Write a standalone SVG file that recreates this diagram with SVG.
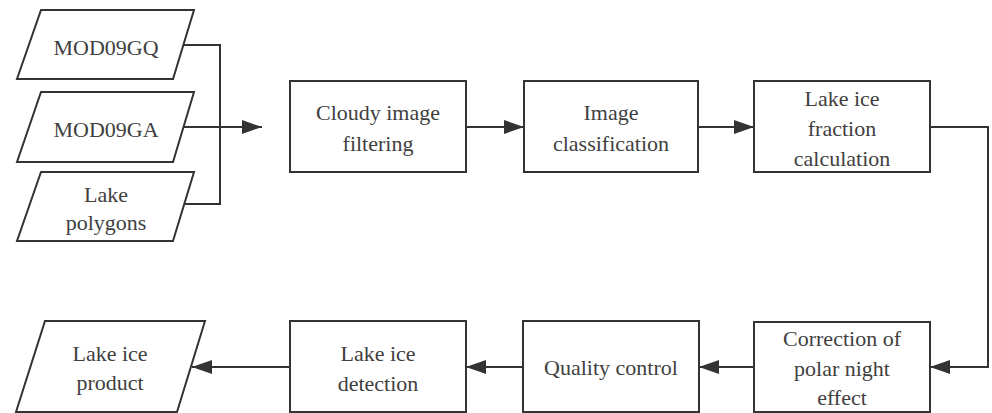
<svg xmlns="http://www.w3.org/2000/svg" width="992" height="413" viewBox="0 0 992 413">
<style>
.s{fill:#fff;stroke:#333;stroke-width:2;stroke-linejoin:miter}
.t{font-family:'Liberation Serif','Times New Roman',serif;font-size:22px;fill:#404040;text-anchor:middle}
.c{fill:none;stroke:#333;stroke-width:2}
</style>
<defs>
<marker id="a" markerUnits="userSpaceOnUse" markerWidth="20" markerHeight="14" refX="20" refY="7" orient="auto">
<path d="M0,0 L20,7 L0,14 z" fill="#333"/>
</marker>
</defs>
<rect width="992" height="413" fill="#fff"/>
<g id="connectors">
<polyline class="c" points="183,45 220,45 220,204 184,204"/>
<line class="c" x1="183" y1="127" x2="262" y2="127" marker-end="url(#a)"/>
<line class="c" x1="466" y1="127" x2="524" y2="127" marker-end="url(#a)"/>
<line class="c" x1="698" y1="127" x2="754" y2="127" marker-end="url(#a)"/>
<polyline class="c" points="930,127 988,127 988,367 930,367" marker-end="url(#a)"/>
<line class="c" x1="754" y1="367" x2="699" y2="367" marker-end="url(#a)"/>
<line class="c" x1="523" y1="367" x2="466" y2="367" marker-end="url(#a)"/>
<line class="c" x1="290" y1="367" x2="192" y2="367" marker-end="url(#a)"/>
</g>
<g id="mod09gq">
<polygon class="s" points="41,10 194,10 173,79 17,79"/>
<text class="t" x="106" y="55">MOD09GQ</text>
</g>
<g id="mod09ga">
<polygon class="s" points="41,92 194,92 173,162 17,162"/>
<text class="t" x="106" y="137">MOD09GA</text>
</g>
<g id="lake-polygons">
<polygon class="s" points="41,172 194,172 173,241 17,241"/>
<text class="t" x="106" y="202">Lake</text>
<text class="t" x="106" y="230">polygons</text>
</g>
<g id="cloudy">
<rect class="s" x="290" y="81" width="176" height="91"/>
<text class="t" x="378" y="120">Cloudy image</text>
<text class="t" x="378" y="151">filtering</text>
</g>
<g id="classification">
<rect class="s" x="524" y="81" width="174" height="91"/>
<text class="t" x="611" y="120">Image</text>
<text class="t" x="611" y="151">classification</text>
</g>
<g id="fraction">
<rect class="s" x="754" y="81" width="176" height="91"/>
<text class="t" x="842" y="106">Lake ice</text>
<text class="t" x="842" y="136">fraction</text>
<text class="t" x="842" y="166">calculation</text>
</g>
<g id="correction">
<rect class="s" x="754" y="322" width="176" height="90"/>
<text class="t" x="842" y="346">Correction of</text>
<text class="t" x="842" y="376">polar night</text>
<text class="t" x="842" y="405">effect</text>
</g>
<g id="quality">
<rect class="s" x="523" y="321" width="176" height="91"/>
<text class="t" x="611" y="375">Quality control</text>
</g>
<g id="detection">
<rect class="s" x="290" y="321" width="176" height="91"/>
<text class="t" x="378" y="361">Lake ice</text>
<text class="t" x="378" y="391">detection</text>
</g>
<g id="product">
<polygon class="s" points="45,321 205,321 177,412 16,412"/>
<text class="t" x="110" y="361">Lake ice</text>
<text class="t" x="110" y="390">product</text>
</g>
</svg>
